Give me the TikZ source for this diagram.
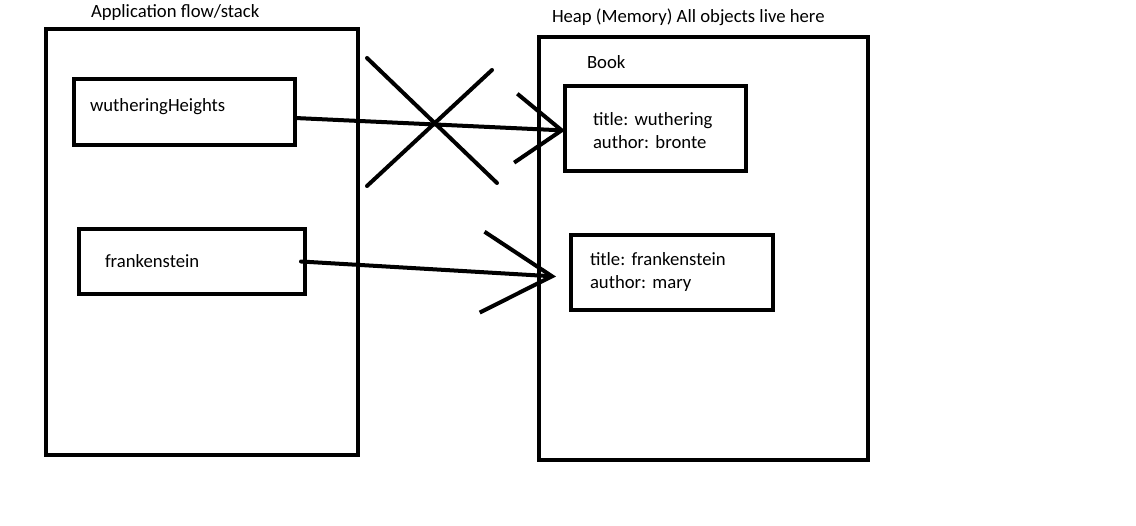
\documentclass[tikz,border=0pt]{standalone}
\usepackage{fontspec}
\setmainfont{Carlito}
\frenchspacing
\usetikzlibrary{arrows.meta,positioning}

\begin{document}
\begin{tikzpicture}[
        x=1pt, y=-1pt,
        every node/.style={font=\fontsize{18.7}{23}\selectfont},
        every path/.style={line width=4pt},
        frame/.style={draw, anchor=north west, inner sep=0pt, outer sep=0pt},
        refbox/.style={draw, anchor=north west, align=left, inner ysep=0pt, outer sep=0pt},
        caption/.style={anchor=base west, inner sep=0pt},
        pointer/.style={line cap=round, -{Straight Barb[length=46pt, width=69pt]}}
    ]

    \useasboundingbox (0,0) rectangle (1136,526);

    % Frames
    \node (stack)[frame, minimum width=312pt, minimum height=426pt] at (46,29) {};
    \node (heap)[frame, minimum width=329pt, minimum height=423pt] at (539,37) {};

    \node (stacktitle)[caption] at (89,18) {Application flow/stack};
    \node (heaptitle)[caption] at (550,23) {Heap (Memory) All objects live here};
    \node (booktitle)[caption] at (585,69) {Book};

    % References
    \node (wuthering)[refbox, inner xsep=16pt, text width=189pt, minimum height=66pt] at (74,79)
        {\raisebox{5pt}[\height][\depth]{wutheringHeights}};
    \node (franken)[refbox, inner xsep=26pt, text width=174pt, minimum height=65pt] at (79,229)
        {frankenstein};

    % Objects
    \node (book1)[refbox, inner xsep=28pt, text width=125pt, minimum height=85pt] at (565,86)
        {\raisebox{-2pt}[\height][\depth]{title: wuthering} \\ \raisebox{-2pt}[\height][\depth]{author: bronte}};
    \node (book2)[refbox, inner xsep=19pt, text width=164pt, minimum height=75pt] at (571,235)
        {title: frankenstein \\ author: mary};

    % Edges
    \draw[pointer] ([yshift=-6pt]wuthering.east) -- ([yshift=-2pt]book1.west);
    \draw[pointer, -{Straight Barb[length=70pt, width=81pt]}]
        ([xshift=-4pt]franken.east) -- ([xshift=-15pt, yshift=-4pt]book2.west);

    % Crossed out
    \draw[line cap=round] (367,58) -- (497,183);
    \draw[line cap=round] (492,70) -- (367,186);

\end{tikzpicture}
\end{document}
